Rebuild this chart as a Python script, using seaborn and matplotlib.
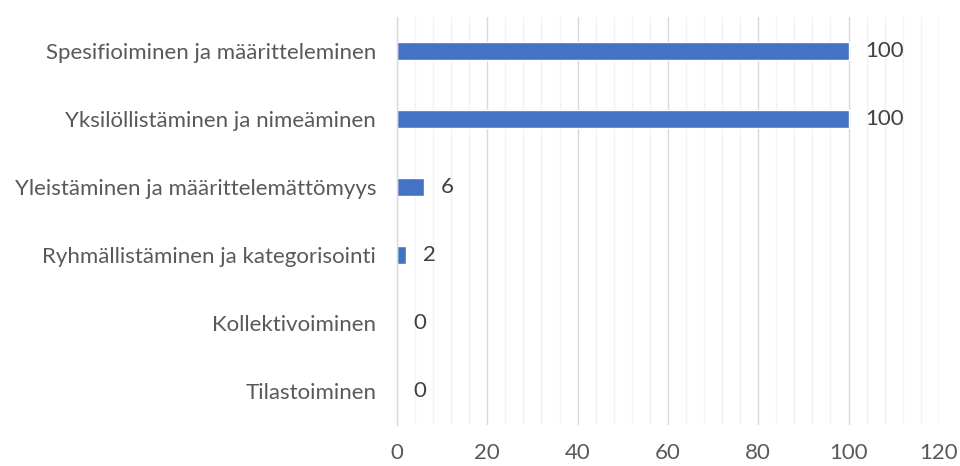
import matplotlib
matplotlib.use("Agg")
import matplotlib.pyplot as plt
import seaborn as sns
import numpy as np
import pandas as pd
from matplotlib.ticker import MultipleLocator, FixedLocator

categories = [
    "Spesifioiminen ja määritteleminen",
    "Yksilöllistäminen ja nimeäminen",
    "Yleistäminen ja määrittelemättömyys",
    "Ryhmällistäminen ja kategorisointi",
    "Kollektivoiminen",
    "Tilastoiminen",
]
values = [100, 100, 6, 2, 0, 0]

df = pd.DataFrame({"kategoria": categories, "arvo": values})

sns.set_style("white")
plt.rcParams["font.family"] = ["Lato", "DejaVu Sans"]

fig = plt.figure(figsize=(9.6, 4.66), dpi=100)
ax = fig.add_axes([0.4135, 0.088, 0.978 - 0.4135, 0.9635 - 0.088])

sns.barplot(data=df, x="arvo", y="kategoria", orient="h", color="#4472C4",
            width=0.27, saturation=1, ax=ax)

ax.set_xlim(0, 120)
ax.set_ylim(len(categories) - 0.5, -0.5)
ax.xaxis.set_major_locator(MultipleLocator(20))
ax.xaxis.set_minor_locator(MultipleLocator(4))
ax.grid(axis="x", which="major", color="#d9d9d9", linewidth=1)
ax.grid(axis="x", which="minor", color="#f2f2f2", linewidth=1)
ax.set_axisbelow(True)

for s in ["top", "right", "bottom"]:
    ax.spines[s].set_visible(False)
ax.spines["left"].set_color("#d9d9d9")
ax.spines["left"].set_linewidth(1)

ax.tick_params(axis="x", which="both", length=0, labelsize=16, colors="#595959", pad=13)
ax.tick_params(axis="y", which="major", length=0, labelsize=16, colors="#595959", pad=15)
ax.yaxis.set_minor_locator(FixedLocator(np.arange(-0.5, len(categories), 1.0)))
ax.tick_params(axis="y", which="minor", length=6, color="#d0d0d0", width=1.2)

ax.set_xlabel("")
ax.set_ylabel("")

for i, v in enumerate(values):
    ax.annotate(str(v), (v, i), xytext=(12, 0), textcoords="offset points",
                va="center", ha="left", fontsize=16, color="#404040")

fig.savefig("out.png", dpi=100)
